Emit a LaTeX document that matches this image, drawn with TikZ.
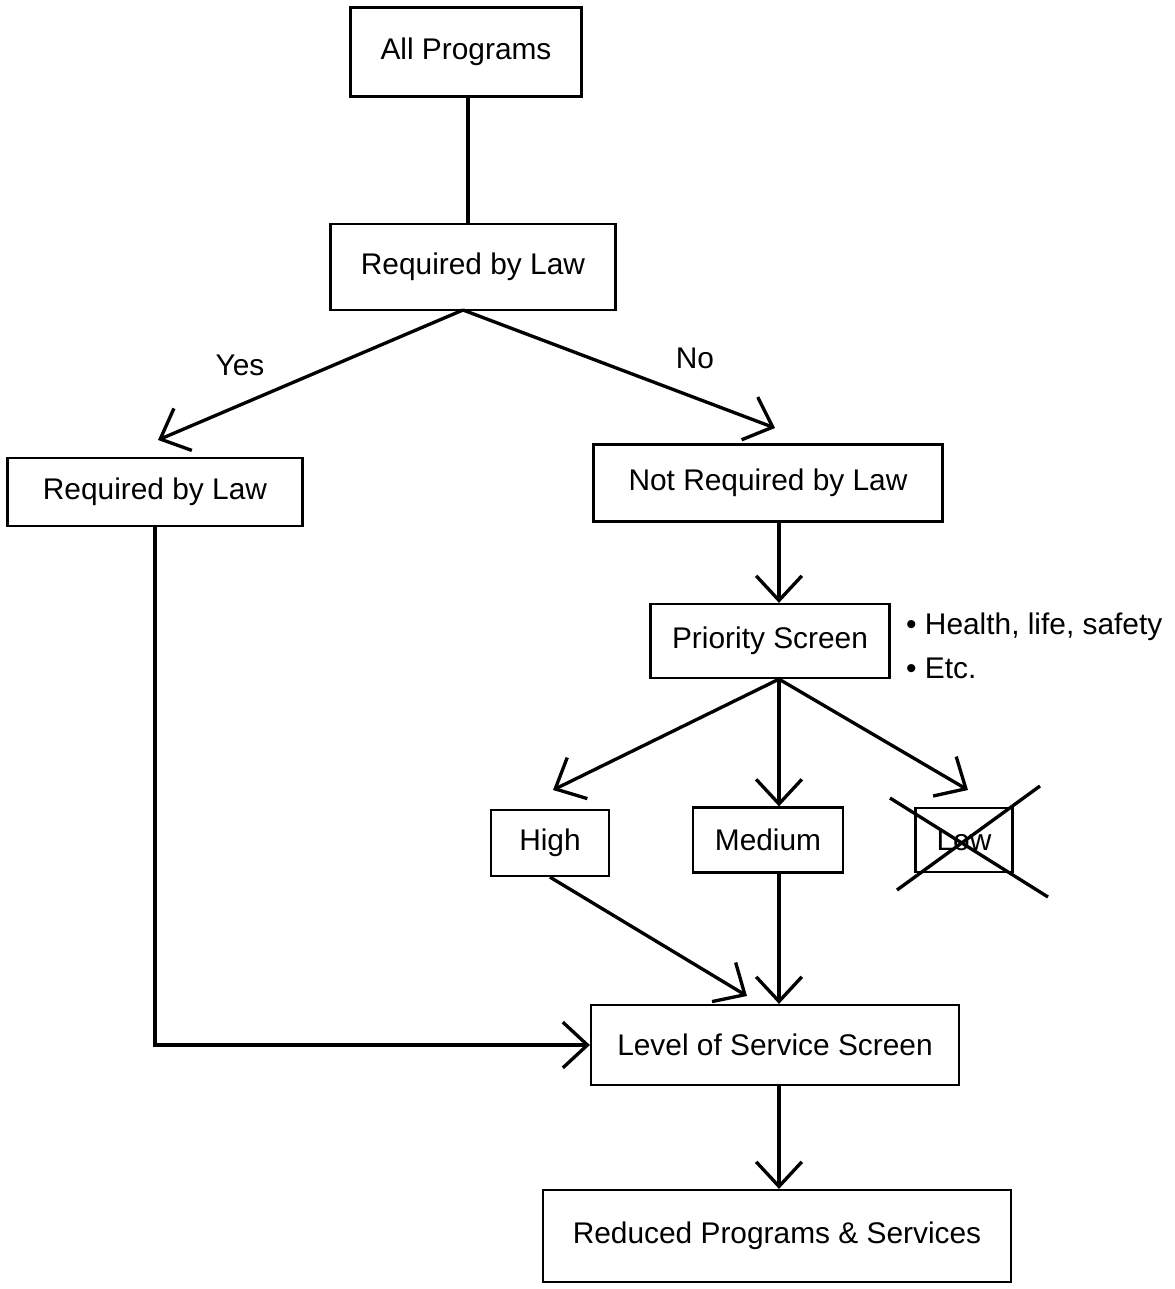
\documentclass[tikz,border=0pt]{standalone}
\usepackage{fontspec}
\setmainfont{Liberation Sans}
\usetikzlibrary{arrows.meta}

\begin{document}
\begin{tikzpicture}[x=0.02cm,y=-0.02cm,
            every node/.style={font=\fontsize{17}{20}\selectfont},
            box/.style={draw,line width=1.3pt,inner sep=0pt},
            arr/.style={line width=1.9pt,-{Straight Barb[length=14pt,width=26pt,line width=1.9pt]}},
            line/.style={line width=1.9pt}]
        \useasboundingbox (0,0) rectangle (1175,1289);
        \node[box,minimum width=4.62cm,minimum height=1.78cm] (all) at (466,52) {All Programs};
        \node[box,minimum width=5.7cm,minimum height=1.72cm] (law) at (473,267) {Required by Law};
        \node[box,minimum width=5.9cm,minimum height=1.36cm] (req) at (155,492) {Required by Law};
        \node[box,minimum width=6.98cm,minimum height=1.54cm] (nreq) at (768,483) {Not Required by Law};
        \node[box,minimum width=4.78cm,minimum height=1.48cm] (prio) at (770,641) {Priority Screen};
        \node[box,minimum width=2.36cm,minimum height=1.32cm] (high) at (550,843) {High};
        \node[box,minimum width=3.0cm,minimum height=1.3cm] (med) at (768,840) {Medium};
        \node[box,minimum width=1.94cm,minimum height=1.28cm] (low) at (964,840) {Low};
        \node[box,minimum width=7.36cm,minimum height=1.6cm] (level) at (775,1045) {Level of Service Screen};
        \node[box,minimum width=9.36cm,minimum height=1.84cm] (red) at (777,1236) {Reduced Programs \& Services};
        \node[anchor=west,align=left,font=\fontsize{17}{25}\selectfont] (crit) at (900,646)
            {\textbullet\ Health, life, safety\\\textbullet\ Etc.};
        \node (yes) at (240,365) {Yes};
        \node (no) at (695,358) {No};
        \coordinate (top) at (468,0);
        \coordinate (col) at (779,0);
        \coordinate (fork) at (463,310);
        \coordinate (ytip) at (158,440);
        \coordinate (ntip) at (775,428);
        \coordinate (htip) at (553,790);
        \coordinate (ltip) at (968,790);
        \coordinate (hin) at (747,996);
        \coordinate (corner) at (req.south |- level.west);

        \draw[line] (top |- all.south) -- (top |- law.north);
        \draw[arr] (fork) -- (ytip);
        \draw[arr] (fork) -- (ntip);
        \draw[arr] (col |- nreq.south) -- (col |- prio.north);
        \draw[arr] (col |- prio.south) -- (htip);
        \draw[arr] (col |- prio.south) -- (col |- med.north);
        \draw[arr] (col |- prio.south) -- (ltip);
        \draw[arr] (high.south) -- (hin);
        \draw[arr] (col |- med.south) -- (col |- level.north);
        \draw[arr] (req.south) -- (corner) -- (level.west);
        \draw[arr] (col |- level.south) -- (col |- red.north);
        % crossed out
        \draw[line] (890,798) -- (1048,897);
        \draw[line] (897,890) -- (1040,786);
    \end{tikzpicture}
\end{document}
